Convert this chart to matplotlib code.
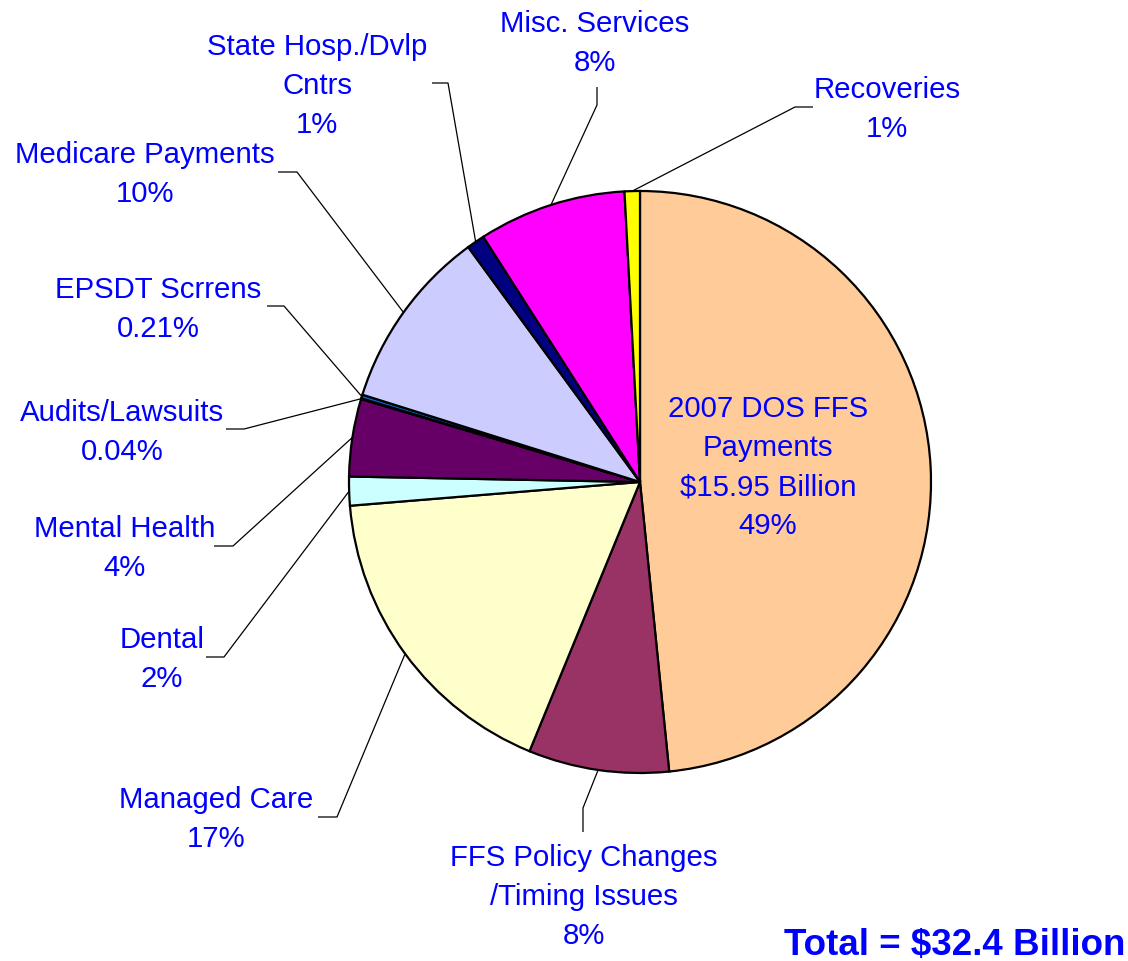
import matplotlib
matplotlib.use("Agg")
import matplotlib.pyplot as plt
import numpy as np

# ---- data (clockwise from 12 o'clock) ----
categories = ["2007 DOS FFS Payments", "FFS Policy Changes /Timing Issues", "Managed Care",
              "Dental", "Mental Health", "Audits/Lawsuits", "EPSDT Scrrens",
              "Medicare Payments", "State Hosp./Dvlp Cntrs", "Misc. Services", "Recoveries"]
values = [48.4, 7.8, 17.5, 1.6, 4.3, 0.04, 0.21, 10.1, 1.0, 8.2, 0.85]
pct_labels = ["49%", "8%", "17%", "2%", "4%", "0.04%", "0.21%", "10%", "1%", "8%", "1%"]
label_lines = [
    ["2007 DOS FFS", "Payments", "$15.95 Billion", "49%"],
    ["FFS Policy Changes", "/Timing Issues", "8%"],
    ["Managed Care", "17%"],
    ["Dental", "2%"],
    ["Mental Health", "4%"],
    ["Audits/Lawsuits", "0.04%"],
    ["EPSDT Scrrens", "0.21%"],
    ["Medicare Payments", "10%"],
    ["State Hosp./Dvlp", "Cntrs", "1%"],
    ["Misc. Services", "8%"],
    ["Recoveries", "1%"],
]
colors = ["#FFCC99", "#993366", "#FFFFCC", "#CCFFFF", "#660066", "#1a1a4d",
          "#0066CC", "#CCCCFF", "#000080", "#FF00FF", "#FFFF00"]
total_text = "Total = $32.4 Billion"

# ---- layout (pixel coords, y measured from top) ----
W, H = 1128, 961
CX, CY, R = 640, 482, 291
# label block: center x, first line y
label_pos = [(768, 409), (584, 858), (216, 800), (162, 640), (125, 529), (122, 413),
             (158, 290), (145, 155), (317, 47), (595, 24), (887, 90)]
# leader elbows (list of points from elbow to end) ; None = no leader
leaders = [
    None,
    [(583, 808), (583, 832)],
    [(337, 817), (318, 817)],
    [(224, 657), (206, 657)],
    [(233, 546), (214, 546)],
    [(244, 429), (226, 429)],
    [(284, 306), (267, 306)],
    [(297, 172), (278, 172)],
    [(448, 83), (432, 83)],
    [(597, 105), (597, 87)],
    [(795, 107), (813, 107)],
]
LINE_H = 39

def fy(y):
    return H - y

fig = plt.figure(figsize=(W / 100, H / 100), dpi=100)
ax = fig.add_axes([0, 0, 1, 1])

wedges, _ = ax.pie(values, colors=colors, startangle=90, counterclock=False,
                   center=(CX, fy(CY)), radius=R, frame=True,
                   wedgeprops=dict(edgecolor="black", linewidth=1.6))
ax.set_xlim(0, W)
ax.set_ylim(0, H)
ax.set_aspect("equal")
ax.axis("off")

font = "Liberation Sans"
for i, w in enumerate(wedges):
    # leader
    if leaders[i] is not None:
        mid = np.deg2rad((w.theta1 + w.theta2) / 2)
        sx = CX + R * np.cos(mid)
        sy = fy(CY) + R * np.sin(mid)
        xs = [sx] + [p[0] for p in leaders[i]]
        ys = [sy] + [fy(p[1]) for p in leaders[i]]
        ax.plot(xs, ys, color="black", lw=0.9, solid_capstyle="butt")
    lx, ly = label_pos[i]
    for k, line in enumerate(label_lines[i]):
        ax.text(lx, fy(ly + k * LINE_H), line, ha="center", va="center",
                fontsize=21.2, color="#0000FF", family=font)

ax.text(1125, fy(945), total_text, ha="right", va="center", fontsize=26.5,
        fontweight="bold", color="#0000FF", family=font)

fig.savefig("out.png", dpi=100)
